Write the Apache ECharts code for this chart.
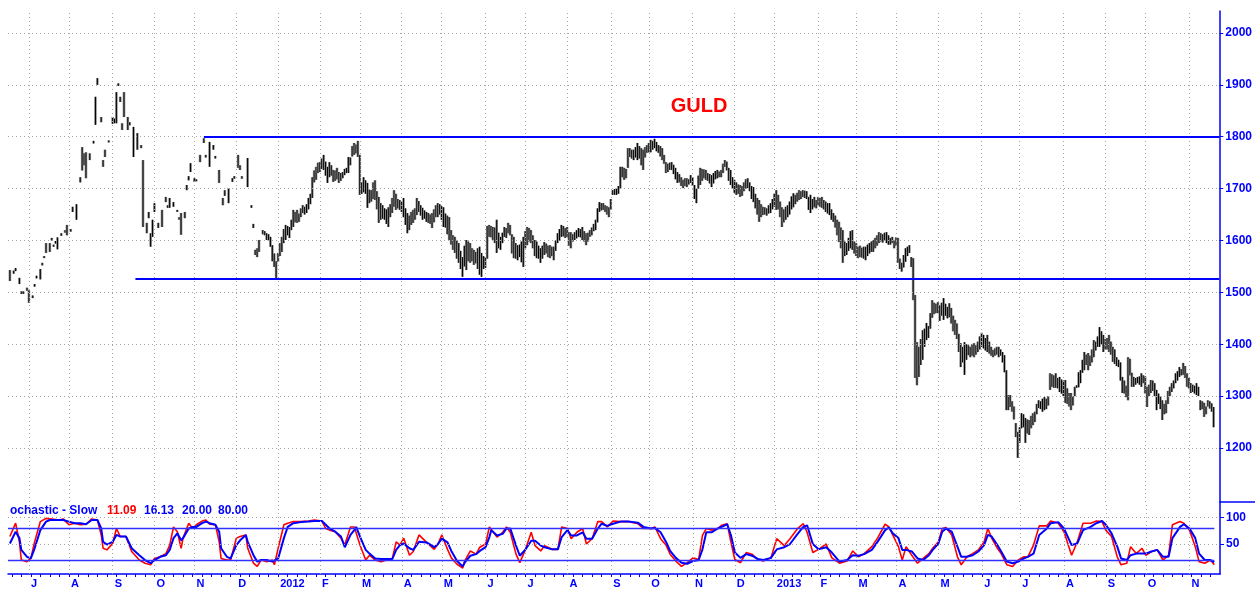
<!DOCTYPE html>
<html><head><meta charset="utf-8">
<script src="https://cdn.jsdelivr.net/npm/echarts@6/dist/echarts.min.js"></script>
<style>html,body{margin:0;padding:0;background:#fff}#c{width:1255px;height:592px}</style>
</head><body><div id="c"></div>
<script>
const _ = null;
// trading-day index 0 = 17 Jun 2011 (every weekday counted)
const monthIdx = [10,31,54,76,97,119,141,163,184,206,227,250,271,293,316,336,359,381,402,425,445,466,488,511,531,554,576,597,620];
const monthLbl = ['J','A','S','O','N','D','2012','F','M','A','M','J','J','A','S','O','N','D','2013','F','M','A','M','J','J','A','S','O','N'];
const priceTicks = [1200,1300,1400,1500,1600,1700,1800,1900,2000];
const stochTicks = [50,100];
const stochLevels = [20,80];
const resistance = {level:1800, from:102};
const support = {level:1527, from:66};
const titleText = 'GULD';
const stochTitle = 'ochastic - Slow';
const stochValues = ['11.09','16.13','20.00','80.00'];

const barHigh = [
1543,_,1542,1547,_,1528,1502,1502,_,1509,
1504,_,1494,1516,1532,_,1545,1557,1570,1595,
_,1595,1605,1592,1599,1606,_,1614,_,1620,
1630,_,1622,1665,_,1670,_,1722,1780,1768,
1770,_,1768,_,1792,1877,1913,_,1838,1755,
1775,_,1793,_,1838,1835,1886,1903,1877,1826,
1886,_,1838,1828,_,1819,_,1807,_,1784,
1755,_,1634,1655,1614,1640,1672,_,1634,_,
1659,_,1684,1668,1682,_,1674,_,1659,1645,
1653,_,1655,1707,1724,1749,_,1720,1718,_,
1765,_,1797,1765,_,1790,_,1784,1763,_,
1736,_,1682,1697,_,1701,_,1720,1724,_,
1765,1745,1724,_,_,1759,_,1668,1632,1582,
1585,1601,_,1620,1618,1614,1612,1607,1591,1575,
1560,1576,1595,1607,1622,1630,1628,1626,1640,1659,
1655,1659,1652,1662,1668,1665,1670,1682,1690,1722,
1735,1742,1750,1751,1758,1765,1752,1742,1751,1745,
1736,1735,1740,1732,1730,1732,1738,1740,1761,1760,
1782,1788,1785,1792,1765,1712,1722,1716,1711,1698,
1697,1712,1716,1695,1684,1672,1668,1662,1660,1664,
1670,1682,1697,1690,1680,1678,1675,1682,1662,1653,
1648,1655,1659,1662,1682,1676,1668,1663,1658,1655,
1653,1650,1653,1660,1668,1672,1670,1666,1664,1652,
1648,1645,1620,1610,1607,1600,1595,1580,1568,1590,
1601,1598,1595,1585,1582,1578,1585,1588,1576,1570,
1568,1628,1630,1628,1626,1625,1640,1615,1607,1615,
1626,1624,1634,1630,1612,1607,1595,1591,1592,1598,
1607,1618,1626,1624,1620,1610,1601,1598,1590,1585,
1590,1597,1594,1590,1591,1588,1588,1600,1614,1622,
1630,1628,1624,1626,1616,1616,1612,1616,1620,1624,
1622,1626,1618,1614,1615,1620,1625,1632,1640,1662,
1674,1672,1672,1668,1666,1664,1680,1697,1699,1701,
1705,1742,1742,1740,1738,1778,1778,1775,1775,1780,
1788,1782,1778,1775,1780,1784,1788,1794,1792,1796,
1790,1784,1782,1778,1765,1751,1748,1750,1751,1746,
1740,1732,1728,1722,1717,1720,1720,1718,1726,1722,
1707,1700,1725,1740,1738,1737,1736,1730,1728,1726,
1730,1734,1736,1733,1736,1748,1755,1752,1740,1736,
1722,1717,1712,1708,1707,1705,1712,1718,1720,1712,
1705,1703,1690,1682,1678,1670,1665,1664,1662,1668,
1672,1680,1690,1697,1688,1675,1664,1660,1665,1668,
1675,1685,1691,1688,1692,1697,1695,1697,1696,1695,
1684,1688,1680,1684,1678,1684,1682,1684,1678,1675,
1672,1672,1660,1653,1648,1640,1636,1625,1620,1598,
1595,1605,1618,1620,1598,1595,1588,1590,1586,1588,
1588,1592,1595,1598,1601,1605,1610,1616,1614,1612,
1615,1616,1610,1605,1607,1600,1606,1605,1565,1557,
1572,1585,1588,1591,1568,1566,1495,1404,1395,1410,
1427,1430,1441,1435,1460,1485,1480,1478,1481,1475,
1480,1489,1478,1472,1479,1470,1455,1447,1440,1420,
1402,1395,1404,1400,1398,1395,1400,1402,1398,1405,
1415,1422,1418,1412,1418,1405,1395,1389,1392,1395,
1395,1390,1385,1379,1350,1302,1302,1290,1280,1248,
1231,1240,1267,1265,1258,1255,1254,1262,1267,1270,
1285,1292,1290,1295,1298,1295,1300,1344,1342,1340,
1344,1335,1337,1332,1330,1331,1315,1306,1306,1300,
1318,1321,1346,1350,1370,1385,1380,1383,1378,1390,
1408,1405,1415,1433,1425,1418,1410,1412,1418,1405,
1395,1390,1375,1370,1365,1337,1330,1320,1375,1372,
1345,1337,1335,1337,1338,1344,1340,1338,1318,1322,
1331,1330,1325,1312,1305,1300,1292,1285,1292,1310,
1318,1325,1330,1344,1348,1356,1352,1364,1358,1344,
1335,1325,1322,1320,1325,1318,1292,1290,1287,1280,
1292,1290,1286,1279
];
const barLow = [
1522,_,1536,1541,_,1516,1497,1497,_,1503,
1480,_,1489,1511,1527,_,1525,1552,1566,1576,
_,1578,1600,1588,1594,1583,_,1609,_,1615,
1610,_,1617,1655,_,1640,_,1712,1735,1745,
1720,_,1755,_,1787,1823,1900,_,1828,1742,
1761,_,1789,_,1825,1826,1826,1898,1867,1813,
1838,_,1813,1822,_,1761,_,1775,_,1778,
1626,_,1614,1643,1588,1607,1655,_,1624,_,
1626,_,1674,1663,1663,_,1665,_,1655,1640,
1611,_,1643,1697,1716,1732,_,1713,1714,_,
1751,_,1788,1760,_,1742,_,1775,1758,_,
1711,_,1668,1686,_,1672,_,1713,1719,_,
1740,1736,1719,_,_,1703,_,1663,1624,1572,
1568,1578,_,1612,1610,1601,1600,1588,1560,1549,
1524,1559,1570,1578,1595,1601,1610,1605,1620,1626,
1635,1634,1636,1645,1653,1650,1653,1660,1670,1682,
1712,1717,1730,1732,1738,1736,1725,1711,1722,1725,
1713,1715,1718,1711,1715,1720,1726,1730,1730,1745,
1762,1765,1768,1761,1688,1690,1693,1690,1663,1672,
1675,1680,1678,1660,1634,1640,1642,1640,1632,1626,
1645,1653,1665,1659,1662,1659,1655,1645,1630,1614,
1620,1630,1634,1640,1649,1655,1648,1640,1642,1636,
1634,1632,1624,1635,1645,1645,1650,1640,1626,1625,
1612,1601,1592,1582,1576,1565,1557,1545,1530,1550,
1543,1560,1557,1560,1553,1556,1545,1534,1530,1545,
1547,1565,1607,1606,1601,1595,1576,1585,1582,1595,
1607,1605,1614,1610,1575,1566,1565,1562,1568,1558,
1549,1585,1591,1598,1595,1585,1570,1566,1565,1557,
1565,1572,1575,1568,1566,1570,1562,1580,1595,1600,
1607,1608,1605,1607,1590,1585,1598,1601,1604,1607,
1606,1601,1598,1591,1598,1607,1610,1618,1620,1635,
1655,1658,1659,1655,1650,1645,1660,1688,1688,1688,
1690,1700,1722,1717,1720,1740,1761,1758,1755,1760,
1755,1758,1745,1736,1760,1769,1770,1770,1775,1778,
1772,1769,1762,1755,1748,1730,1732,1736,1736,1728,
1718,1711,1712,1705,1701,1705,1703,1708,1711,1705,
1680,1672,1700,1707,1715,1720,1717,1715,1710,1703,
1710,1718,1720,1722,1722,1730,1742,1735,1715,1707,
1700,1692,1688,1690,1684,1686,1695,1700,1701,1695,
1680,1674,1662,1650,1636,1645,1649,1650,1648,1652,
1653,1660,1665,1659,1660,1645,1626,1635,1640,1645,
1650,1660,1664,1670,1675,1678,1680,1684,1682,1680,
1659,1653,1660,1664,1662,1668,1665,1663,1660,1655,
1652,1649,1640,1636,1625,1610,1597,1585,1557,1570,
1572,1580,1585,1582,1575,1570,1566,1568,1567,1565,
1562,1570,1575,1578,1578,1585,1590,1595,1598,1596,
1600,1595,1592,1592,1595,1585,1590,1557,1545,1540,
1548,1559,1570,1576,1549,1485,1335,1321,1337,1360,
1370,1395,1408,1412,1430,1451,1458,1460,1460,1445,
1455,1447,1455,1450,1452,1440,1425,1418,1410,1385,
1356,1365,1341,1370,1379,1375,1378,1375,1380,1385,
1390,1395,1392,1388,1385,1382,1378,1375,1378,1380,
1375,1378,1365,1346,1273,1273,1279,1270,1255,1221,
1181,1210,1238,1240,1210,1228,1225,1238,1244,1250,
1265,1277,1275,1270,1273,1275,1282,1312,1318,1316,
1316,1315,1308,1305,1300,1287,1285,1280,1273,1282,
1300,1316,1317,1325,1345,1350,1360,1350,1358,1365,
1375,1388,1395,1395,1400,1385,1390,1390,1385,1380,
1366,1362,1358,1356,1330,1306,1305,1298,1292,1340,
1318,1318,1322,1325,1322,1318,1325,1305,1279,1300,
1306,1310,1300,1273,1285,1275,1254,1265,1267,1285,
1300,1308,1315,1325,1330,1337,1340,1341,1335,1318,
1315,1306,1308,1305,1302,1300,1273,1275,1260,1265,
1280,1276,1270,1240
];

const stochDays = [
0,3,5,6,9,11,13,16,19,21, 26,28,31,34,37,40,43,46,48,49,
51,54,56,58,61,64,68,71,74,76, 79,82,84,86,88,90,91,94,96,98,
101,103,105,108,110,111,114,116,119,121, 124,125,128,130,132,135,138,139,141,144,
146,149,153,157,160,164,166,168,171,174, 176,179,181,182,184,187,189,192,195,198,
201,203,205,207,210,212,215,219,223,225, 227,230,232,235,238,239,242,245,247,250,
252,253,256,259,261,263,266,268,271,274, 276,279,281,285,288,290,293,295,298,301,
303,306,309,311,314,317,321,325,330,333, 337,339,342,345,347,350,353,356,359,362,
364,366,369,372,374,377,379,381,384,387, 390,393,396,400,403,407,410,414,417,419,
422,425,429,432,436,440,443,446,449,453, 456,460,462,464,467,469,471,474,477,480,
483,485,488,490,492,495,498,500,503,506, 509,512,514,516,519,521,524,527,530,533,
535,538,541,545,547,551,554,558,561,564, 568,571,574,576,579,582,584,587,589,592,
595,597,600,603,606,609,611,615,617,620, 623,625,628,631,633
];
const stochK = [
64,89,54,20,17,23,54,92,98,97, 95,97,86,89,86,87,97,95,67,42,
39,51,79,64,64,36,20,14,11,23, 26,32,48,82,73,42,61,89,79,86,
93,95,87,86,54,23,20,20,61,64, 67,42,14,8,20,17,20,11,42,86,
89,92,92,93,95,93,79,76,73,61, 48,82,82,79,48,20,29,20,17,20,
23,54,48,61,29,36,67,53,40,50, 67,40,24,12,5,18,37,31,44,50,
82,82,63,72,82,72,31,15,40,72, 47,37,47,40,40,82,79,60,72,79,
50,60,92,92,82,93,92,92,88,79, 79,82,60,47,31,18,8,15,24,21,
66,79,76,79,85,88,53,21,15,34, 31,21,18,24,60,47,60,79,88,72,
34,40,50,24,14,18,37,26,32,45, 61,87,82,67,45,20,45,29,14,23,
32,42,54,79,81,67,26,11,26,32, 39,54,79,61,42,32,11,8,20,26,
26,48,84,84,93,89,73,29,54,89, 89,93,92,76,64,26,11,14,45,32,
42,29,36,39,20,29,86,92,89,76, 45,17,14,20,11.09
];
const stochD = [
51,73,61,39,26,23,42,76,92,95, 95,95,92,89,89,87,95,95,79,54,
49,54,67,64,64,42,29,20,14,20, 26,29,39,61,70,57,61,79,82,82,
89,92,89,86,73,42,26,23,48,57, 67,54,29,17,20,20,17,14,23,61,
82,89,91,92,93,93,86,79,73,64, 44,67,76,82,64,39,32,23,22,22,
22,39,48,51,42,39,54,53,44,50, 60,53,37,18,8,15,28,31,37,44,
63,76,66,69,79,79,47,28,40,56, 56,47,44,40,40,63,76,66,66,72,
60,60,79,88,84,88,92,92,90,82, 79,80,72,53,37,24,15,13,18,20,
40,72,72,79,82,87,66,34,24,31, 28,22,20,24,40,44,50,69,82,85,
50,40,44,34,17,20,29,28,31,39, 54,76,81,70,61,39,39,36,23,20,
29,39,51,73,79,73,45,26,26,29, 36,48,67,64,48,36,17,14,17,23,
26,32,67,79,89,91,79,48,51,76, 82,89,93,86,70,45,23,20,29,32,
32,32,36,39,26,26,61,82,87,79, 61,32,20,20,16.13
];

// ---- build chart ----
const lastDay = barHigh.length - 1;
const X_MIN = -1, X_MAX = 636;
const weekTicks = [];
for (let d = 1; d <= lastDay; d += 5) weekTicks.push(d);

const bars = [];
for (let i = 0; i < barHigh.length; i++) {
  if (barHigh[i] != null && barLow[i] != null) bars.push([i, barHigh[i], barLow[i]]);
}
const kData = stochDays.map((d, k) => [d, stochK[k]]);
const dData = stochDays.map((d, k) => [d, stochD[k]]);

const BLUE = '#0000ff';
const FONT = "'Liberation Sans', Arial, sans-serif";
const gridStyle = {color: '#a6a6a6', type: [1, 3], width: 1};
const noSym = ['none', 'none'];
const plain = v => String(v);

const chart = echarts.init(document.getElementById('c'), null, {renderer: 'canvas'});
chart.setOption({
  animation: false,
  backgroundColor: '#ffffff',
  grid: [
    {left: 8, right: 35, top: 11, height: 491},
    {left: 8, right: 35, top: 502, height: 72}
  ],
  xAxis: [
    {gridIndex: 0, type: 'value', min: X_MIN, max: X_MAX, show: false},
    {gridIndex: 1, type: 'value', min: X_MIN, max: X_MAX,
     axisLine: {show: true, onZero: false, lineStyle: {color: BLUE, width: 1.5}},
     axisTick: {show: true, customValues: weekTicks, length: 3, lineStyle: {color: BLUE}},
     axisLabel: {customValues: monthIdx, formatter: v => monthLbl[monthIdx.indexOf(v)] || '',
       color: BLUE, fontWeight: 'bold', fontSize: 11, fontFamily: FONT, align: 'left', margin: 4, padding: [0,0,0,2]},
     splitLine: {show: false}}
  ],
  yAxis: [
    {gridIndex: 0, type: 'value', position: 'right', min: 1095.9, max: 2042.4,
     axisLine: {show: true, onZero: false, lineStyle: {color: BLUE, width: 1.5}},
     axisTick: {show: true, customValues: priceTicks, length: 4, lineStyle: {color: BLUE}},
     axisLabel: {customValues: priceTicks, formatter: plain, color: BLUE, fontWeight: 'bold', fontSize: 12, fontFamily: FONT, margin: 6},
     splitLine: {show: false}},
    {gridIndex: 1, type: 'value', position: 'right', min: -6.2, max: 128.7,
     axisLine: {show: true, onZero: false, lineStyle: {color: BLUE, width: 1.5}},
     axisTick: {show: true, customValues: stochTicks, length: 4, lineStyle: {color: BLUE}},
     axisLabel: {customValues: stochTicks, formatter: plain, color: BLUE, fontWeight: 'bold', fontSize: 12, fontFamily: FONT, margin: 6},
     splitLine: {show: false}}
  ],
  series: [
    {type: 'line', xAxisIndex: 0, yAxisIndex: 0, data: [], silent: true, z: 1,
     markLine: {silent: true, symbol: noSym, label: {show: false}, lineStyle: gridStyle, animation: false,
       data: monthIdx.map(v => ({xAxis: v})).concat(priceTicks.map(v => ({yAxis: v})))}},
    {type: 'line', xAxisIndex: 1, yAxisIndex: 1, data: [], silent: true, z: 1,
     markLine: {silent: true, symbol: noSym, label: {show: false}, lineStyle: gridStyle, animation: false,
       data: monthIdx.map(v => ({xAxis: v})).concat(stochTicks.map(v => ({yAxis: v})))}},
    {type: 'custom', xAxisIndex: 0, yAxisIndex: 0, data: bars, clip: true, z: 3,
     encode: {x: 0, y: [1, 2]},
     renderItem: function (params, api) {
       const i = api.value(0);
       const top = api.coord([i, api.value(1)]);
       const bot = api.coord([i, api.value(2)]);
       const h = Math.max(bot[1] - top[1], 1.5);
       return {type: 'group', children: [
         {type: 'rect', shape: {x: top[0] - 1.3, y: top[1], width: 2.6, height: h}, style: {fill: '#8a8a8a'}},
         {type: 'line', shape: {x1: top[0], y1: top[1], x2: top[0], y2: top[1] + h}, style: {stroke: '#000', lineWidth: 1}}
       ]};
     }},
    {type: 'line', xAxisIndex: 0, yAxisIndex: 0, data: [], silent: true, z: 4,
     markLine: {silent: true, symbol: noSym, label: {show: false}, animation: false,
       lineStyle: {color: BLUE, width: 2, type: 'solid'},
       data: [
         [{coord: [resistance.from, resistance.level]}, {coord: [X_MAX, resistance.level]}],
         [{coord: [support.from, support.level]}, {coord: [X_MAX, support.level]}]
       ]}},
    {type: 'line', name: '%K', xAxisIndex: 1, yAxisIndex: 1, data: kData, showSymbol: false, z: 3,
     lineStyle: {color: '#ff0000', width: 1.6}, itemStyle: {color: '#ff0000'},
     markLine: {silent: true, symbol: noSym, label: {show: false}, animation: false,
       lineStyle: {color: '#2f2fff', width: 1.3, type: 'solid'},
       data: stochLevels.map(v => [{coord: [X_MIN, v]}, {coord: [lastDay, v]}])}},
    {type: 'line', name: '%D', xAxisIndex: 1, yAxisIndex: 1, data: dData, showSymbol: false, z: 4,
     lineStyle: {color: '#0000ff', width: 2}, itemStyle: {color: '#0000ff'}}
  ],
  graphic: [
    {type: 'text', x: 699, y: 106, silent: true,
     style: {text: titleText, fill: '#ff0000', font: "bold 20px 'Liberation Sans', Arial, sans-serif", textAlign: 'center', textVerticalAlign: 'middle'}},
    {type: 'text', x: 10, y: 511, silent: true,
     style: {text: stochTitle, fill: BLUE, font: "bold 12px 'Liberation Sans', Arial, sans-serif", textVerticalAlign: 'middle'}},
    {type: 'text', x: 107, y: 511, silent: true,
     style: {text: stochValues[0], fill: '#ff0000', font: "bold 12px 'Liberation Sans', Arial, sans-serif", textVerticalAlign: 'middle'}},
    {type: 'text', x: 144, y: 511, silent: true,
     style: {text: stochValues[1], fill: BLUE, font: "bold 12px 'Liberation Sans', Arial, sans-serif", textVerticalAlign: 'middle'}},
    {type: 'text', x: 182, y: 511, silent: true,
     style: {text: stochValues[2], fill: BLUE, font: "bold 12px 'Liberation Sans', Arial, sans-serif", textVerticalAlign: 'middle'}},
    {type: 'text', x: 218, y: 511, silent: true,
     style: {text: stochValues[3], fill: BLUE, font: "bold 12px 'Liberation Sans', Arial, sans-serif", textVerticalAlign: 'middle'}},
    {type: 'line', silent: true, shape: {x1: 1220, y1: 502, x2: 1255, y2: 502}, style: {stroke: BLUE, lineWidth: 1.5}}
  ]
});
</script>
</body></html>
